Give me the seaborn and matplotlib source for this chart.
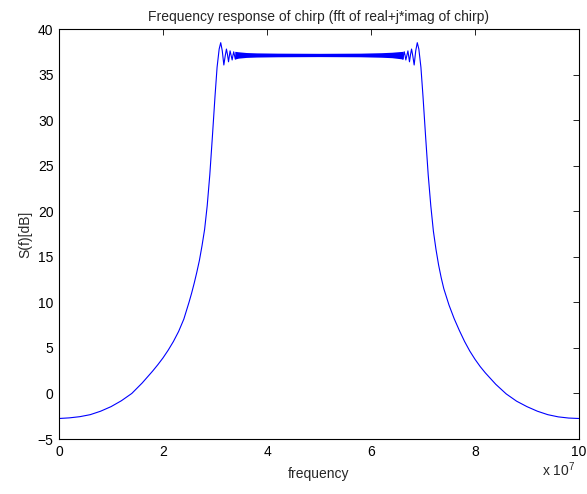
import matplotlib
matplotlib.use("Agg")
import matplotlib.pyplot as plt
from matplotlib.ticker import FuncFormatter
import seaborn as sns
import pandas as pd

# ---- data (frequency in units of 1e7 Hz, level in dB) ----
freq_e7 = [0.0, 0.2, 0.4, 0.6, 0.8, 1.0, 1.2, 1.4, 1.6, 1.8, 1.9, 2.0, 2.1, 2.2, 2.3,
           2.4, 2.5, 2.55, 2.6, 2.65, 2.7, 2.75, 2.8, 2.85, 2.9, 2.95, 3.0, 3.04,
           3.08, 3.11, 3.14, 3.17, 3.195, 3.22, 3.24, 3.26, 3.275, 3.29, 3.31, 3.33,
           3.345, 3.36, 3.375, 3.39, 3.41, 5.0, 6.59,
           6.61, 6.625, 6.64, 6.655, 6.67, 6.69, 6.71, 6.725, 6.74, 6.76, 6.78,
           6.805, 6.83, 6.86, 6.89, 6.92, 6.96, 7.0, 7.05, 7.1, 7.15, 7.2, 7.25,
           7.3, 7.35, 7.4, 7.5, 7.6, 7.7, 7.8, 7.9, 8.0, 8.1, 8.2, 8.4, 8.6, 8.8,
           9.0, 9.2, 9.4, 9.6, 9.8, 10.0]
level_db = [-2.75, -2.68, -2.55, -2.33, -1.95, -1.45, -0.8, 0.0, 1.15, 2.45, 3.15, 3.9,
            4.75, 5.7, 6.8, 8.15, 10.0, 11.0, 12.1, 13.3, 14.6, 16.2, 18.0, 20.6, 24.0,
            28.2, 32.6, 35.8, 37.8, 38.5, 37.6, 36.05, 37.0, 37.8, 37.2, 36.4,
            37.0, 37.6, 37.1, 36.6, 37.1, 37.5, 37.1, 36.7, 37.15, 37.15, 37.15,
            36.7, 37.1, 37.5, 37.1, 36.6, 37.1, 37.6, 37.0, 36.4, 37.2, 37.8,
            37.0, 36.05, 37.6, 38.5, 37.8, 35.8, 32.6, 28.2, 24.0, 20.6, 17.8, 15.8,
            14.1, 12.7, 11.5, 9.7, 8.2, 6.9, 5.7, 4.65, 3.75, 2.95, 2.25, 1.0, -0.05,
            -0.85, -1.45, -1.95, -2.33, -2.57, -2.7, -2.75]

# dense fine-ripple band on the flat top (visual envelope)
band_e7 = [3.38, 3.45, 3.6, 3.8, 4.2, 5.0, 5.8, 6.2, 6.4, 6.55, 6.62]
band_hi = [37.55, 37.5, 37.42, 37.38, 37.35, 37.33, 37.35, 37.4, 37.45, 37.52, 37.55]
band_lo = [36.7, 36.8, 36.88, 36.92, 36.95, 36.97, 36.95, 36.9, 36.85, 36.75, 36.7]

x_ticks = [0, 2, 4, 6, 8, 10]
y_ticks = [-5, 0, 5, 10, 15, 20, 25, 30, 35, 40]
SCALE = 1e7

sns.set_style("white")
plt.rcParams["font.family"] = ["Liberation Sans", "DejaVu Sans"]
plt.rcParams["mathtext.fontset"] = "custom"
plt.rcParams["mathtext.rm"] = "Liberation Sans"

W, H = 587, 494
fig = plt.figure(figsize=(W / 100, H / 100), dpi=100)
fig.patch.set_facecolor("white")
ax = fig.add_axes([59 / W, 1 - 439 / H, (579 - 59) / W, (439 - 29) / H])

df = pd.DataFrame({"f": [v * SCALE for v in freq_e7], "S": level_db})
sns.lineplot(data=df, x="f", y="S", color="#0000ff", linewidth=0.8, ax=ax,
             estimator=None, sort=False)
ax.fill_between([v * SCALE for v in band_e7], band_lo, band_hi,
                color="#0000ff", linewidth=0)

ax.set_xlim(0, 10 * SCALE)
ax.set_ylim(-5, 40)
ax.set_xticks([t * SCALE for t in x_ticks])
ax.xaxis.set_major_formatter(FuncFormatter(lambda v, p: f"{v / SCALE:g}"))
ax.set_yticks(y_ticks)

fs = 10
ax.tick_params(direction="in", length=4, width=0.6, top=True, right=True,
               labelsize=fs, colors="black", pad=4)
for s in ax.spines.values():
    s.set_color("black")
    s.set_linewidth(0.8)

ax.set_title("Frequency response of chirp (fft of real+j*imag of chirp)",
             fontsize=fs, pad=6)
ax.set_xlabel("frequency", fontsize=fs, labelpad=6)
ax.set_ylabel("S(f)[dB]", fontsize=fs, labelpad=4)
ax.text(0.992, -0.075, r"x 10$^{7}$", transform=ax.transAxes, ha="right",
        va="center", fontsize=fs)

fig.savefig("out.png", dpi=100, facecolor="white")
